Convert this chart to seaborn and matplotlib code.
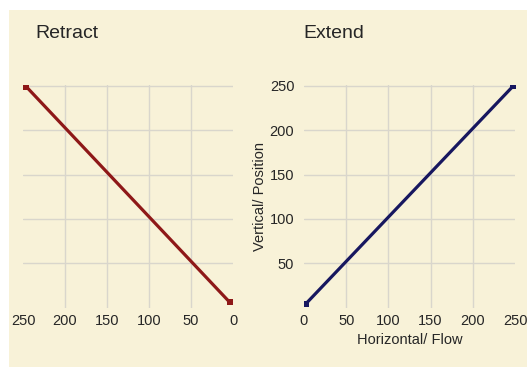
import matplotlib
matplotlib.use("Agg")
import matplotlib.pyplot as plt
import seaborn as sns
import pandas as pd
from matplotlib.patches import Rectangle

# Data
retract_flow = [246, 4]
retract_pos = [249, 6]
extend_flow = [2, 248]
extend_pos = [4, 250]
ticks = [0, 50, 100, 150, 200, 250]
ytick_vals = [50, 100, 150, 200, 250]
titles = ["Retract", "Extend"]
xlabel = "Horizontal/ Flow"
ylabel = "Vertical/ Position"

sns.set_style("white")
plt.rcParams['font.family'] = ['Liberation Sans', 'DejaVu Sans']

BG = "#F8F2D8"
GRID = "#D9D6CC"
TXT = "#262626"
RED = "#8E1818"
BLUE = "#17175F"

fig = plt.figure(figsize=(5.27, 3.67), dpi=100)
fig.patch.set_facecolor("white")
fig.patches.append(Rectangle((9 / 527, 0), 1, (367 - 10) / 367, transform=fig.transFigure,
                             facecolor=BG, edgecolor="none", zorder=-10))

axL = fig.add_axes([23 / 527, (367 - 307.5) / 367, 210 / 527, 222.5 / 367])
axR = fig.add_axes([304 / 527, (367 - 307.5) / 367, 211 / 527, 222.5 / 367])

dfL = pd.DataFrame({"x": retract_flow, "y": retract_pos})
dfR = pd.DataFrame({"x": extend_flow, "y": extend_pos})

sns.lineplot(data=dfL, x="x", y="y", ax=axL, color=RED, linewidth=2.3,
             marker="s", markersize=5, markeredgewidth=0, sort=False)
sns.lineplot(data=dfR, x="x", y="y", ax=axR, color=BLUE, linewidth=2.3,
             marker="s", markersize=5, markeredgewidth=0, sort=False)

for ax in (axL, axR):
    ax.set_facecolor("none")
    for s in ax.spines.values():
        s.set_visible(False)
    ax.set_ylim(0, 251)
    ax.set_xticks(ticks)
    ax.set_xticklabels([str(t) for t in ticks])
    ax.set_yticks(ytick_vals)
    ax.grid(True, color=GRID, linewidth=1.0)
    ax.tick_params(axis="both", length=0, labelsize=10.5, colors=TXT)
    ax.tick_params(axis="x", pad=5)
    ax.tick_params(axis="y", pad=7)
    for i, gl in enumerate(ax.get_xgridlines()):
        if ticks[i] in (0, 250):
            gl.set_visible(False)
    ax.set_xlabel("")
    ax.set_ylabel("")

axL.set_xlim(250, 0)
axL.set_yticklabels([])
axR.set_xlim(0, 250)
axR.set_yticklabels([str(t) for t in ytick_vals])
axR.set_xlabel(xlabel, fontsize=10.5, color=TXT, labelpad=3)
axR.set_ylabel(ylabel, fontsize=10.5, color=TXT, labelpad=2)

fig.text(35 / 527, 1 - 33 / 367, titles[0], fontsize=14, color=TXT, va="center", ha="left")
fig.text(303 / 527, 1 - 33 / 367, titles[1], fontsize=14, color=TXT, va="center", ha="left")

fig.savefig("out.png", dpi=100, facecolor=fig.get_facecolor())
